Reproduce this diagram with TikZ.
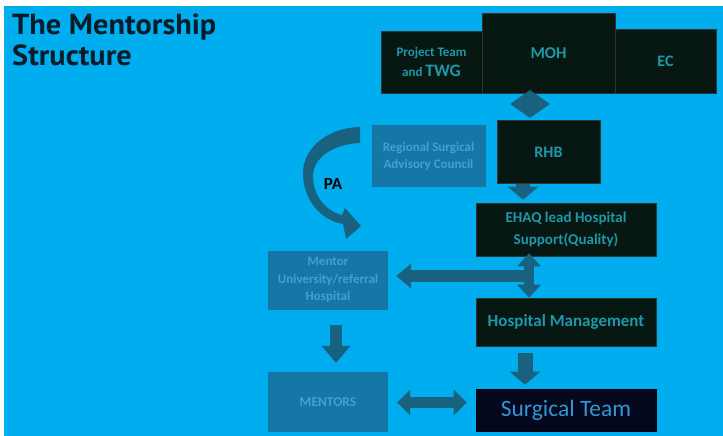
\documentclass[tikz,border=0pt]{standalone}
\usepackage{fontspec}
\setmainfont{Carlito}
\newfontfamily\titlefont{PT Sans}
\usetikzlibrary{shapes.geometric,arrows.meta,calc}
\definecolor{bgblue}{RGB}{0,173,239}
\definecolor{darkbox}{RGB}{6,24,17}
\definecolor{navybox}{RGB}{4,8,28}
\definecolor{darktext}{RGB}{30,152,170}
\definecolor{midbox}{RGB}{22,118,166}
\definecolor{midtext}{RGB}{62,162,214}
\definecolor{arrowc}{RGB}{24,98,128}
\definecolor{titlec}{RGB}{10,28,40}
\definecolor{sttext}{RGB}{50,150,214}
\tikzset{
  darkb/.style={fill=darkbox, draw=black!80, line width=0.6pt, text=darktext, align=center, inner sep=0pt},
  midb/.style={fill=midbox, text=midtext, align=center, inner sep=0pt},
  barrow/.style={draw=arrowc, line width=14pt, -{Triangle[length=13pt,width=30pt]}},
  darrow/.style={draw=arrowc, line width=11pt, {Triangle[length=13pt,width=25pt]}-{Triangle[length=13pt,width=25pt]}},
}
\begin{document}
\begin{tikzpicture}[x=1pt,y=-1pt]
\useasboundingbox (0,0) rectangle (723,436);
\fill[white] (0,0) rectangle (723,436);
\fill[bgblue] (4,6) rectangle (723,436);
% title
\node[anchor=north west, align=left, text=titlec, font=\titlefont\bfseries\fontsize{29}{31}\selectfont, inner sep=0pt] (title) at (12,14) {\scalebox{1.045}[1]{The Mentorship}\\\scalebox{1.045}[1]{Structure}};
% top boxes
\node[darkb, minimum width=101pt, minimum height=62pt, font=\bfseries\fontsize{13}{20}\selectfont] (ptwg) at (431.5,62) {Project Team\\and {\fontsize{17.5}{20}\selectfont TWG}};
\node[darkb, minimum width=101pt, minimum height=64pt, font=\bfseries\fontsize{16}{16}\selectfont] (ec) at (665.5,61) {EC};
\node[darkb, minimum width=133pt, minimum height=80pt, font=\bfseries\fontsize{16.5}{16}\selectfont] (moh) at (548.5,53) {MOH};
\node[diamond, fill=arrowc, minimum width=40pt, minimum height=28pt, inner sep=0pt] (dia) at (530,104) {};
% second row
\node[midb, minimum width=114pt, minimum height=62pt, font=\bfseries\fontsize{13}{17}\selectfont] (rsac) at (428.5,156) {Regional Surgical\\Advisory Council};
\node[darkb, minimum width=103pt, minimum height=63pt, font=\bfseries\fontsize{16}{16}\selectfont] (rhb) at (548.5,152) {RHB};
\node[darkb, minimum width=180pt, minimum height=53pt, font=\bfseries\fontsize{15}{22}\selectfont] (ehaq) at (566,229.5) {EHAQ lead Hospital\\Support(Quality)};
\node[midb, minimum width=120pt, minimum height=59pt, font=\bfseries\fontsize{13}{17.5}\selectfont] (mentor) at (328,280) {Mentor\\University/referral\\Hospital};
\node[darkb, minimum width=180pt, minimum height=48pt, font=\bfseries\fontsize{17}{18}\selectfont] (hm) at (566,322) {Hospital Management};
\node[midb, minimum width=120pt, minimum height=60pt, font=\bfseries\fontsize{13.5}{14}\selectfont] (mentors) at (328,402) {MENTORS};
\node[fill=navybox, draw=black, line width=0.6pt, text=sttext, minimum width=180pt, minimum height=42pt, inner sep=0pt, font=\fontsize{23.5}{24}\selectfont] (st) at (566,410) {Surgical Team};
% PA curved arrow
\fill[arrowc] (360,127) .. controls (325,128) and (302,150) .. (303,175)
  .. controls (304,200) and (320,220) .. (343,224)
  -- (346,239) -- (361,226) -- (345,208) -- (342,215)
  .. controls (325,211) and (313,195) .. (313,176)
  .. controls (313,158) and (333,144) .. (360,143) -- cycle;
\node[font=\bfseries\fontsize{17}{18}\selectfont, text=black] (pa) at (333,184) {PA};
% arrows
\coordinate (ax1) at (523,0);
\draw[barrow, shorten >=3pt] (rhb.south -| ax1) -- (ehaq.north -| ax1);
\coordinate (vx) at (529,0);
\draw[darrow, line width=10pt, {Triangle[length=13pt,width=23pt]}-{Triangle[length=13pt,width=23pt]}] ($(ehaq.south -| vx)+(0,-3)$) -- (hm.north -| vx);
\coordinate (hx) at (531,276);
\draw[draw=arrowc, line width=12pt, -{Triangle[length=15pt,width=24pt]}, shorten >=8pt] (hx) -- (mentor.east |- hx);
\coordinate (mx) at (336,0);
\draw[barrow, line width=12pt, -{Triangle[length=17pt,width=28pt]}, shorten <=15pt, shorten >=9pt] (mentor.south -| mx) -- (mentors.north -| mx);
\coordinate (sx) at (525,0);
\draw[barrow, line width=15pt, shorten <=7pt, shorten >=4pt] (hm.south -| sx) -- (st.north -| sx);
\coordinate (dy) at (0,402.5);
\draw[darrow, shorten <=9pt, shorten >=9pt] (mentors.east |- dy) -- (st.west |- dy);
\end{tikzpicture}
\end{document}
